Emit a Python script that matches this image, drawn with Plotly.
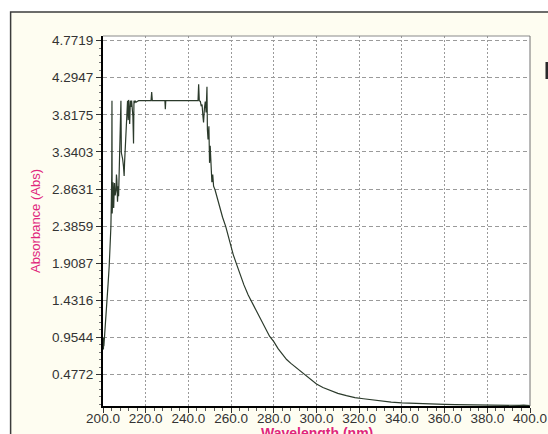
import plotly.graph_objects as go

# Absorbance spectrum (wavelength in nm, absorbance in Abs)
wavelength = [
    200.0, 200.2, 200.3, 200.4, 200.6, 200.8, 201.1, 201.5, 201.9, 202.4,
    202.9, 203.3, 203.7, 203.9, 204.1, 204.2, 204.3, 204.5, 204.7, 205.0,
    205.2, 205.4, 205.7, 206.1, 206.3, 206.5, 206.8, 207.1, 207.3, 207.6,
    207.8, 208.1, 208.3, 208.4, 208.6, 208.9, 209.2, 209.6, 209.9, 210.1,
    210.4, 210.7, 211.0, 211.2, 211.5, 211.8, 212.0, 212.3, 212.5, 212.8,
    213.1, 213.4, 213.6, 214.0, 214.3, 214.5, 214.8, 215.1, 215.5, 216.0,
    216.7, 222.5, 222.8, 223.1, 229.0, 229.2, 229.4, 244.5, 244.8, 245.1,
    245.6, 246.0, 246.4, 246.8, 247.1, 247.5, 247.9, 248.3, 248.7, 248.9,
    249.2, 249.6, 249.9, 250.2, 250.6, 251.0, 251.4, 251.8, 252.5, 253.4,
    254.2, 254.9, 256.0, 257.5, 258.5, 260.0, 261.0, 262.5, 264.0, 266.0,
    268.0, 270.0, 272.0, 274.0, 276.0, 278.0, 280.0, 282.0, 284.0, 286.0,
    288.0, 290.0, 292.0, 294.0, 296.0, 298.0, 300.0, 303.0, 306.0, 310.0,
    314.0, 318.0, 322.0, 326.0, 330.0, 335.0, 340.0, 345.0, 350.0, 355.0,
    360.0, 365.0, 370.0, 375.0, 378.0, 380.0, 382.0, 385.0, 388.0, 390.0,
    392.0, 395.0, 397.0, 400.0,
]
absorbance = [
    0.90, 0.80, 0.95, 0.84, 0.92, 1.00, 1.10, 1.25, 1.44, 1.65,
    1.87, 2.10, 2.38, 2.70, 3.05, 4.00, 2.55, 2.70, 2.95, 2.62,
    2.80, 2.94, 2.78, 2.85, 3.05, 2.98, 2.70, 2.90, 2.77, 3.07,
    3.15, 3.41, 3.55, 4.00, 3.33, 3.30, 3.25, 3.15, 3.03, 3.20,
    3.41, 3.60, 3.84, 3.97, 4.00, 3.75, 4.01, 3.85, 3.70, 4.00,
    3.92, 4.00, 3.95, 3.80, 3.45, 4.00, 3.97, 4.00, 3.98, 3.99,
    4.00, 4.00, 4.11, 4.00, 4.00, 3.89, 4.00, 4.00, 4.21, 4.00,
    3.99, 3.93, 3.95, 3.80, 3.72, 3.90, 3.99, 3.85, 4.18, 3.63,
    3.50, 3.67, 3.20, 3.42, 3.14, 2.95, 3.05, 2.90, 2.85, 2.76,
    2.68, 2.60, 2.50, 2.38, 2.27, 2.12, 2.02, 1.90, 1.78, 1.63,
    1.50, 1.39, 1.28, 1.18, 1.06, 0.97, 0.90, 0.81, 0.74, 0.67,
    0.62, 0.575, 0.525, 0.48, 0.44, 0.395, 0.355, 0.31, 0.275, 0.235,
    0.205, 0.18, 0.165, 0.15, 0.137, 0.122, 0.112, 0.105, 0.100, 0.096,
    0.092, 0.089, 0.086, 0.085, 0.083, 0.087, 0.080, 0.082, 0.079, 0.083,
    0.078, 0.080, 0.084, 0.077,
]

x_ticks = [200, 220, 240, 260, 280, 300, 320, 340, 360, 380, 400]
x_tick_labels = ["200.0", "220.0", "240.0", "260.0", "280.0", "300.0",
                 "320.0", "340.0", "360.0", "380.0", "400.0"]
y_ticks = [0.4772, 0.9544, 1.4316, 1.9087, 2.3859, 2.8631, 3.3403, 3.8175, 4.2947, 4.7719]
y_tick_labels = ["0.4772", "0.9544", "1.4316", "1.9087", "2.3859", "2.8631",
                 "3.3403", "3.8175", "4.2947", "4.7719"]

W, H = 548, 434
ML, MR, MT, MB = 102.5, 18, 36, 28
PW, PH = W - ML - MR, H - MT - MB


def px_to_paper_x(px):
    return (px - ML) / PW


def px_to_paper_y(py):
    return (H - MB - py) / PH


fig = go.Figure()
fig.add_trace(go.Scatter(
    x=wavelength, y=absorbance, mode="lines",
    line=dict(color="#2b3a2b", width=1.2),
    hoverinfo="skip", showlegend=False,
))

FONT = "Liberation Sans, Arial, sans-serif"
label_font = dict(family=FONT, size=13.5, color="#333333")
pink = "#e0267c"

fig.update_layout(
    width=W, height=H,
    margin=dict(l=ML, r=MR, t=MT, b=MB, autoexpand=False),
    paper_bgcolor="#ffffff",
    plot_bgcolor="#ffffff",
    xaxis=dict(
        range=[200, 400], tickvals=x_ticks, ticktext=x_tick_labels,
        showline=True, linecolor="#000000", linewidth=2,
        ticks="outside", ticklen=5, tickcolor="#333333",
        ticklabelstandoff=-6,
        minor=dict(dtick=4, ticks="outside", ticklen=3, tickcolor="#555555", showgrid=False),
        showgrid=True, gridcolor="#9a9a9a", gridwidth=1, griddash="2px,2px",
        zeroline=False, tickfont=label_font, automargin=False,
    ),
    yaxis=dict(
        range=[0.072, 4.832], tickvals=y_ticks, ticktext=y_tick_labels,
        showline=True, linecolor="#000000", linewidth=2,
        ticks="outside", ticklen=5, tickcolor="#333333",
        minor=dict(dtick=0.09544, tick0=0, ticks="outside", ticklen=2, tickcolor="#777777", showgrid=False),
        showgrid=True, gridcolor="#9a9a9a", gridwidth=1, griddash="4px,3px",
        zeroline=False, tickfont=label_font, automargin=False,
        title=dict(text="Absorbance (Abs)", standoff=8,
                   font=dict(family=FONT, size=13, color=pink)),
    ),
    annotations=[
        dict(text="<b>Wavelength (nm)</b>", xref="paper", yref="paper",
             x=0.5, y=px_to_paper_y(424), xanchor="center", yanchor="top",
             borderpad=0, showarrow=False, font=dict(family=FONT, size=14, color=pink)),
    ],
    shapes=[
        # cream window panel behind the plot
        dict(type="rect", xref="paper", yref="paper", layer="below",
             x0=px_to_paper_x(10), x1=px_to_paper_x(W + 20),
             y0=px_to_paper_y(H + 20), y1=px_to_paper_y(12),
             fillcolor="#fefdf1", line=dict(color="#3c3c3c", width=1.5)),
        # white plotting area
        dict(type="rect", xref="paper", yref="paper", layer="below",
             x0=0, x1=1, y0=0, y1=1, fillcolor="#ffffff", line=dict(width=0)),
        # light top and right borders of the plot
        dict(type="line", xref="paper", yref="paper", x0=0, x1=1, y0=1, y1=1,
             line=dict(color="#8a8a8a", width=1)),
        dict(type="line", xref="paper", yref="paper", x0=1, x1=1, y0=0, y1=1,
             line=dict(color="#707070", width=1)),
        # small marker at the right edge
        dict(type="rect", xref="paper", yref="paper",
             x0=px_to_paper_x(545.5), x1=px_to_paper_x(548),
             y0=px_to_paper_y(79), y1=px_to_paper_y(62),
             fillcolor="#2a2a2a", line=dict(width=0)),
    ],
)

fig.write_html("out.html")
